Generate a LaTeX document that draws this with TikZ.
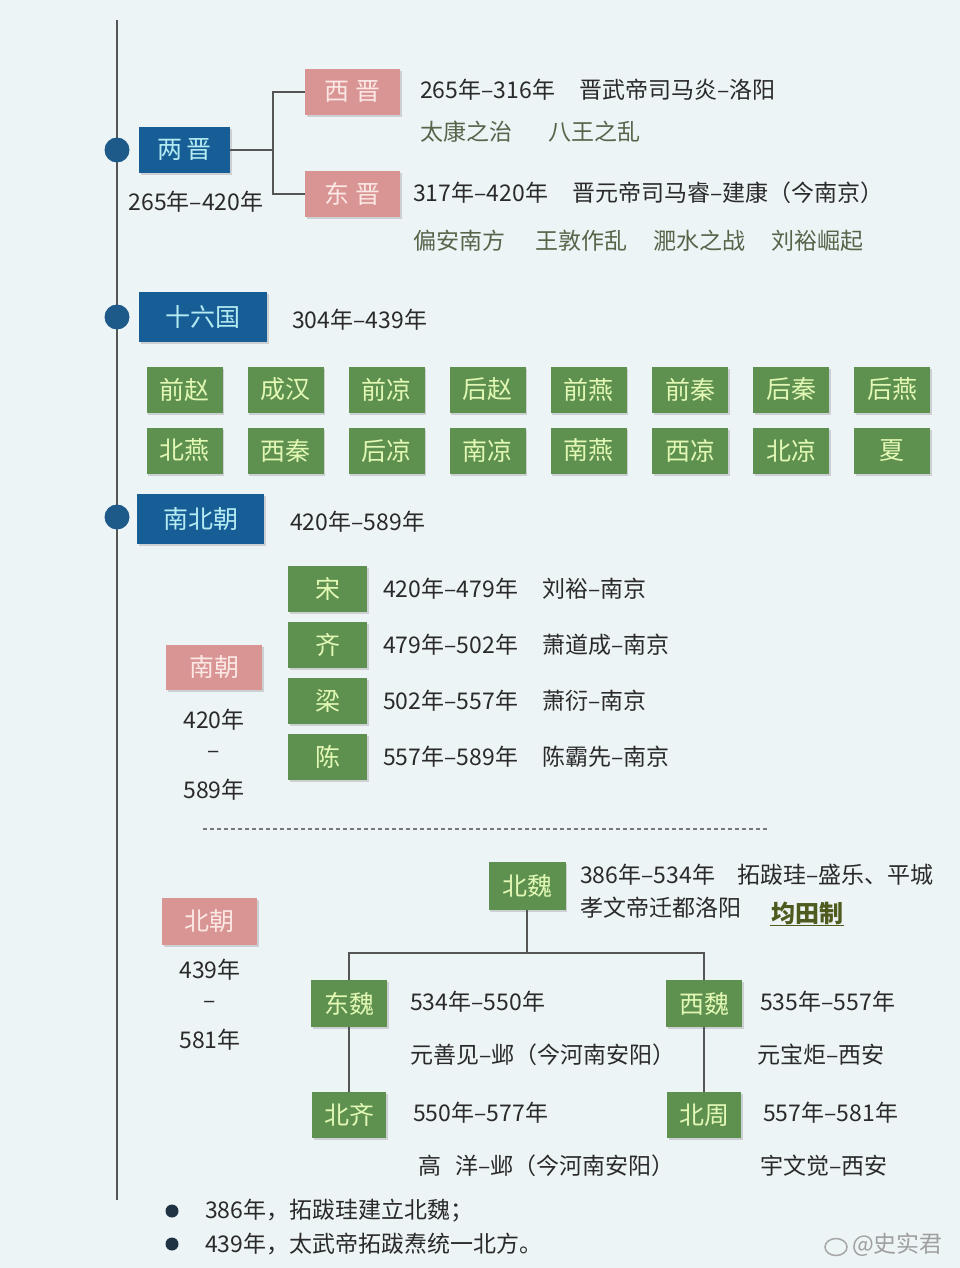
\documentclass[tikz,border=0pt]{standalone}
\usepackage{fontspec}
\setmainfont{Noto Sans CJK SC}
\usetikzlibrary{shadows,shapes.geometric}
\definecolor{bgC}{HTML}{EDF4F6}
\definecolor{blueC}{HTML}{175E96}
\definecolor{blueT}{HTML}{B5EBF2}
\definecolor{pinkC}{HTML}{D99494}
\definecolor{pinkT}{HTML}{FBE8E4}
\definecolor{greenC}{HTML}{5E904F}
\definecolor{greenT}{HTML}{E2F8B4}
\definecolor{darkT}{HTML}{2A2A2A}
\definecolor{subT}{HTML}{56654A}
\definecolor{lineC}{HTML}{555555}
\definecolor{dotC}{HTML}{1D5A8A}
\definecolor{tianC}{HTML}{4F5A1E}
\definecolor{bulC}{HTML}{1F3344}
\begin{document}
\begin{tikzpicture}[x=1pt,y=-1pt,
  box/.style={minimum height=46pt, inner sep=0pt, font=\fontsize{25}{25}\selectfont,
    drop shadow={opacity=0.3, shadow xshift=1.5pt, shadow yshift=-2pt}},
  bluebox/.style={box, fill=blueC, text=blueT},
  pinkbox/.style={box, fill=pinkC, text=pinkT},
  greenbox/.style={box, fill=greenC, text=greenT},
  gridbox/.style={greenbox, minimum width=76pt},
  yr/.style={anchor=west, inner sep=0pt, text=darkT, font=\fontsize{23}{23}\selectfont},
  subtxt/.style={anchor=west, inner sep=0pt, text=subT, font=\fontsize{23}{23}\selectfont},
  conn/.style={draw=lineC, line width=1.5pt},
  dot/.style={circle, fill=dotC, minimum size=25pt, inner sep=0pt},
  bullet/.style={circle, fill=bulC, minimum size=13pt, inner sep=0pt}
]
\useasboundingbox (0,0) rectangle (960,1268);
\fill[bgC] (0,0) rectangle (960,1268);

% timeline
\coordinate (ttop) at (117,20);
\coordinate (tbot) at (117,1200);
\draw[conn] (ttop) -- (tbot);
\node[dot] (d1) at (117,150) {};
\node[dot] (d2) at (117,317) {};
\node[dot] (d3) at (117,517) {};

% 两晋
\node[bluebox, minimum width=91pt] (liangjin) at (184.5,150) {两\hspace{4pt}晋};
\node[yr, anchor=center] (ljdate) at (196,202) {265年–420年};
\node[pinkbox, minimum width=95pt] (xijin) at (352.5,92) {西\hspace{6pt}晋};
\node[pinkbox, minimum width=95pt] (dongjin) at (352.5,194) {东\hspace{6pt}晋};
\coordinate (brk) at (273,150);
\draw[conn] (liangjin.east) -- (brk);
\draw[conn] (xijin.west) -- (xijin.west -| brk) -- (dongjin.west -| brk) -- (dongjin.west);
\node[yr] (xjt) at (420,90) {265年–316年\hspace{24pt}晋武帝司马炎–洛阳};
\node[subtxt] (xjs) at (420,132) {太康之治\hspace{36pt}八王之乱};
\node[yr] (djt) at (413,193) {317年–420年\hspace{24pt}晋元帝司马睿–建康（今南京）};
\node[subtxt] (djs) at (413,241) {偏安南方\hspace{30pt}王敦作乱\hspace{26pt}淝水之战\hspace{26pt}刘裕崛起};

% 十六国
\node[bluebox, minimum width=128pt, minimum height=50pt] (sly) at (203,317) {十六国};
\node[yr] (slydate) at (292,320) {304年–439年};
\foreach \t [count=\i from 0] in {前赵,成汉,前凉,后赵,前燕,前秦,后秦,后燕}
  \node[gridbox] (ga\i) at (184.5+101.1*\i,389.5) {\t};
\foreach \t [count=\i from 0] in {北燕,西秦,后凉,南凉,南燕,西凉,北凉,夏}
  \node[gridbox] (gb\i) at (184.5+101.1*\i,450.5) {\t};

% 南北朝
\node[bluebox, minimum width=127pt, minimum height=50pt] (nbc) at (200.5,519) {南北朝};
\node[yr] (nbcdate) at (290,522) {420年–589年};

% 南朝
\node[pinkbox, minimum width=96pt, minimum height=45pt] (nanchao) at (214,667.5) {南朝};
\node[yr, anchor=center] (nc1) at (214,720) {420年};
\node[yr, anchor=center] (nc2) at (214,755) {–};
\node[yr, anchor=center] (nc3) at (214,790) {589年};
\node[greenbox, minimum width=79pt] (song) at (327.5,589) {宋};
\node[greenbox, minimum width=79pt] (qi) at (327.5,645) {齐};
\node[greenbox, minimum width=79pt] (liang) at (327.5,701) {梁};
\node[greenbox, minimum width=79pt] (chen) at (327.5,757) {陈};
\node[yr] (songt) at (383,589) {420年–479年\hspace{24pt}刘裕–南京};
\node[yr] (qit) at (383,645) {479年–502年\hspace{24pt}萧道成–南京};
\node[yr] (liangt) at (383,701) {502年–557年\hspace{24pt}萧衍–南京};
\node[yr] (chent) at (383,757) {557年–589年\hspace{24pt}陈霸先–南京};

% divider
\coordinate (dvl) at (203,829);
\coordinate (dvr) at (768,829);
\draw[draw=lineC!80, line width=1.2pt, dash pattern=on 4pt off 3pt] (dvl) -- (dvr);

% 北朝
\node[pinkbox, minimum width=95pt, minimum height=47pt] (beichao) at (209.5,921.5) {北朝};
\node[yr, anchor=center] (bc1) at (210,970) {439年};
\node[yr, anchor=center] (bc2) at (210,1005) {–};
\node[yr, anchor=center] (bc3) at (210,1040) {581年};

\node[greenbox, minimum width=77pt, minimum height=48pt] (beiwei) at (527,886) {北魏};
\node[yr] (bwt) at (580,875) {386年–534年\hspace{22pt}拓跋珪–盛乐、平城};
\node[yr] (bws) at (580,908) {孝文帝迁都洛阳};
\node[anchor=west, inner sep=1pt, text=tianC, font=\fontsize{24}{24}\selectfont\bfseries] (tian) at (770,913) {均田制};
\draw[tianC, line width=1.2pt] (tian.south west) -- (tian.south east);

\node[greenbox, minimum width=76pt, minimum height=47pt] (dongwei) at (349,1003.5) {东魏};
\node[greenbox, minimum width=76pt, minimum height=47pt] (xiwei) at (704,1003.5) {西魏};
\node[greenbox, minimum width=74pt, minimum height=46pt] (beiqi) at (349,1115) {北齐};
\node[greenbox, minimum width=74pt, minimum height=46pt] (beizhou) at (704,1115) {北周};
\coordinate (hb) at (527,953);
\draw[conn] (beiwei.south) -- (hb);
\draw[conn] (dongwei.north) -- (dongwei.north |- hb) -- (xiwei.north |- hb) -- (xiwei.north);
\draw[conn] (dongwei.south) -- (beiqi.north);
\draw[conn] (xiwei.south) -- (beizhou.north);

\node[yr] (dwt) at (410,1002) {534年–550年};
\node[yr] (dws) at (410,1055) {元善见–邺（今河南安阳）};
\node[yr] (xwt) at (760,1002) {535年–557年};
\node[yr] (xws) at (757,1055) {元宝炬–西安};
\node[yr] (bqt) at (413,1113) {550年–577年};
\node[yr] (bqs) at (418,1166) {高\hspace{14pt}洋–邺（今河南安阳）};
\node[yr] (bzt) at (763,1113) {557年–581年};
\node[yr] (bzs) at (760,1166) {宇文觉–西安};

% bullets
\node[bullet] (b1) at (172,1211) {};
\node[bullet] (b2) at (172,1244) {};
\node[yr] (b1t) at (205,1211) {386年，拓跋珪建立北魏；};
\node[yr] (b2t) at (205,1244) {439年，太武帝拓跋焘统一北方。};

% watermark
\node[draw=gray!70, line width=1.5pt, ellipse, minimum width=22pt, minimum height=17pt, inner sep=0pt] (wlogo) at (836,1247) {};
\node[anchor=west, inner sep=0pt, text=gray!75, font=\fontsize{23}{23}\selectfont] (wm) at (852,1245) {@史实君};
\end{tikzpicture}
\end{document}
